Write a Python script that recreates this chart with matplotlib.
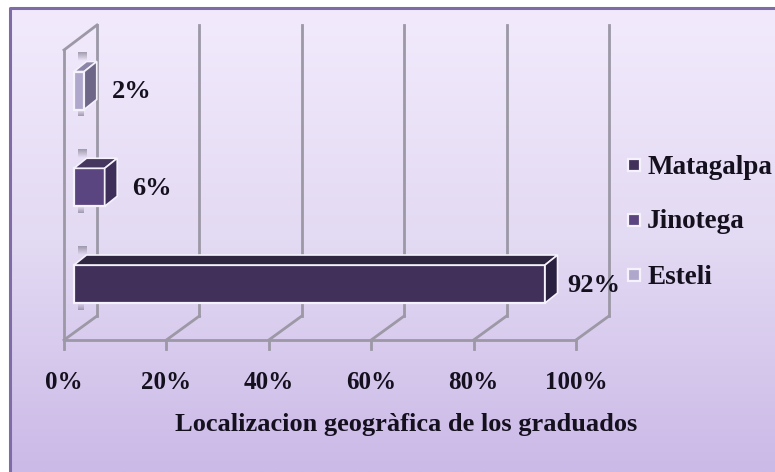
import matplotlib
matplotlib.use("Agg")
import matplotlib.pyplot as plt
import numpy as np
from matplotlib.colors import LinearSegmentedColormap, to_rgb
from matplotlib.patches import Polygon, Rectangle

categorias = ["Matagalpa", "Jinotega", "Esteli"]
valores = [92, 6, 2]
ticks = [0, 20, 40, 60, 80, 100]
tick_labels = ["0%", "20%", "40%", "60%", "80%", "100%"]
cores = ["#40305A", "#5A4580", "#B0A8CC"]
cores_topo = ["#2F2642", "#46375F", "#8E86A8"]
cores_lado = ["#2A2140", "#3D2F5A", "#6E6788"]

W, H = 775, 472
plt.rcParams["font.family"] = ["Liberation Serif", "DejaVu Serif"]
plt.rcParams["font.weight"] = "bold"
preto = "#14101E"

fig = plt.figure(figsize=(W / 100, H / 100), dpi=100, facecolor="white")

# fundo em degrade
bg = fig.add_axes([0, 0, 1, 1], zorder=0)
cmap = LinearSegmentedColormap.from_list("fundo", ["#F2EAFC", "#E3DAF3", "#CBB9E7"])
bg.imshow(np.linspace(0, 1, 256).reshape(-1, 1), cmap=cmap, aspect="auto",
          extent=[10, W, H, 9], zorder=1)
bg.set_xlim(0, W)
bg.set_ylim(H, 0)
bg.axis("off")
bg.plot([10, 10, W], [H, 8, 8], color="#7F6BA6", lw=2.2, zorder=2)

# eixo principal: 0-100% de px 64 a px 576, categorias em y
x0, x1 = 64, 576
y_base, passo = 340, 96.75
ax = fig.add_axes([x0 / W, 1 - y_base / H, (x1 - x0) / W, (y_base - 25) / H], zorder=1)
ax.set_xlim(0, 100)
ax.set_ylim(-56 / passo, (284 - 25) / passo)
ax.patch.set_alpha(0)
for s in ax.spines.values():
    s.set_visible(False)

px_x = 100 / (x1 - x0)
px_y = 1 / passo
dx_par, dy_par = 33 * px_x, 24 * px_y        # profundidade da parede
dx_bar, dy_bar = 12.5 * px_x, 10 * px_y      # profundidade da barra
folga = 10 * px_x
alt = 38 * px_y
ymin, ymax = ax.get_ylim()
topo_frente = ymax - 25 * px_y
cinza = "#9C98A6"

# grade e parede em perspectiva
for t in ticks:
    ax.plot([t + dx_par, t + dx_par], [ymin + dy_par, ymax], color=cinza, lw=2, zorder=1, clip_on=False)
    ax.plot([t, t + dx_par], [ymin, ymin + dy_par], color=cinza, lw=2, zorder=1, clip_on=False)
    ax.plot([t, t], [ymin, ymin - 9 * px_y], color=cinza, lw=2, zorder=1, clip_on=False)
ax.plot([0, 100], [ymin, ymin], color=cinza, lw=2, zorder=1, clip_on=False)
ax.plot([0, 0], [ymin, topo_frente], color=cinza, lw=2, zorder=1, clip_on=False)
ax.plot([0, dx_par], [topo_frente, ymax], color=cinza, lw=2, zorder=1, clip_on=False)

# barras 3D
ypos = np.arange(len(valores))
sombra = np.zeros((16, 1, 4))
sombra[..., :3] = to_rgb("#8F8A9C")
sombra[:, 0, 3] = np.linspace(0, 0.8, 16)
for y, v, c, ct, cl in zip(ypos, valores, cores, cores_topo, cores_lado):
    topo = y + alt / 2
    base = y - alt / 2
    fim = folga + v
    # sombra na parede, acima e abaixo da barra
    sx = folga + 4 * px_x
    ax.imshow(sombra, extent=[sx, sx + 9 * px_x, topo + dy_bar, topo + dy_bar + 9 * px_y],
              aspect="auto", origin="lower", zorder=2)
    ax.imshow(sombra[::-1], extent=[sx, sx + 6 * px_x, base - 7 * px_y, base], origin="lower",
              aspect="auto", zorder=2)
    ax.barh(y, v, left=folga, height=alt, color=c, edgecolor="#F6F2FC", linewidth=1.6, zorder=3)
    ax.add_patch(Polygon([(folga, topo), (folga + dx_bar, topo + dy_bar),
                          (fim + dx_bar, topo + dy_bar), (fim, topo)],
                         fc=ct, ec="#F6F2FC", lw=1.2, zorder=3))
    ax.add_patch(Polygon([(fim, topo), (fim + dx_bar, topo + dy_bar),
                          (fim + dx_bar, base + dy_bar), (fim, base)],
                         fc=cl, ec="#F6F2FC", lw=1.2, zorder=3))
    ax.text(fim + dx_bar + (15 if v < 50 else 10) * px_x, y - 1 * px_y, f"{v}%", fontsize=19, color=preto,
            ha="left", va="center", zorder=5, clip_on=False)

ax.set_xlim(0, 100)
ax.set_ylim(ymin, ymax)
ax.set_yticks([])
ax.set_xticks(ticks)
ax.set_xticklabels(tick_labels, fontsize=18, color=preto)
ax.tick_params(axis="x", length=0, pad=22)

bg.text(406, 424, "Localizacion geogràfica de los graduados", fontsize=19, color=preto,
        ha="center", va="center", zorder=3)

# legenda
leg_y = [165, 220, 275]
for nome, c, py in zip(categorias, cores, leg_y):
    bg.add_patch(Rectangle((628, py - 6), 12, 12, fc=c, ec="#F6F2FC", lw=1.6, zorder=3))
    bg.text(647, py + 2, nome, fontsize=19.5, color=preto, va="center", ha="left", zorder=3)

fig.savefig("out.png", dpi=100)
